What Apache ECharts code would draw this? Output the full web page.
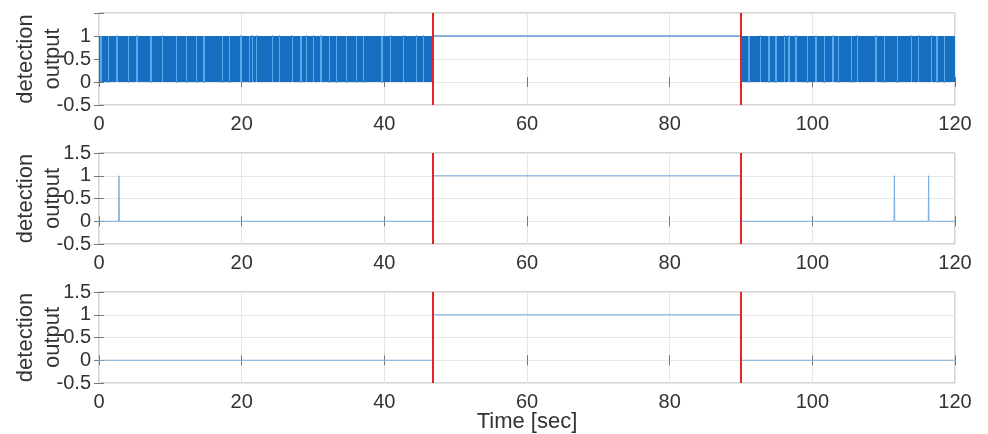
<!DOCTYPE html>
<html><head><meta charset="utf-8">
<script src="https://cdn.jsdelivr.net/npm/echarts@6/dist/echarts.min.js"></script>
<style>html,body{margin:0;padding:0;background:#fff}#c{width:988px;height:434px}</style>
</head><body><div id="c"></div>
<script>
// ---- data ----
const xTicks = [0, 20, 40, 60, 80, 100, 120];
const yTicks = [-0.5, 0, 0.5, 1, 1.5];
const eventTimes = [46.8, 90.0];          // red event markers [sec]
const sampleStep = 0.2;                   // top-panel sampling [sec]
const topSegAStart = 0;                   // rapid 0/1 detection output, 0 .. 46.8 s
const topSegA =
  "1001010010" + "1011010101" + "0010101101" + "0101010010" + "1010110101" +
  "0101001010" + "1001010100" + "1010010101" + "0101010010" + "1001010101" +
  "1010100110" + "1101010101" + "0110101101" + "0101011010" + "1001011010" +
  "1101011010" + "1001010010" + "1010010101" + "0010100101" + "0101010100" +
  "1010110101" + "0101101010" + "1011010110" + "10101";
const topSegBStart = 90;                  // rapid 0/1 detection output, 90 .. 120 s
const topSegB =
  "1010100101" + "0101101010" + "0101001010" + "1101101011" + "0101010010" +
  "1011010100" + "1010110100" + "1010101001" + "0110101010" + "1010110101" +
  "0010101010" + "0101010101" + "1010110101" + "0101101001" + "0100101010" + "1";
const midTimes  = [0, 2.75, 2.8, 2.85, 46.8, 46.8, 90.0, 90.0, 111.45, 111.5, 111.55, 116.25, 116.3, 116.35, 120];
const midValues = [0, 0,    1,   0,    0,    1,    1,    0,    0,      1,     0,      0,      1,     0,      0];
const botTimes  = [0, 46.8, 46.8, 90.0, 90.0, 120];
const botValues = [0, 0,    1,    1,    0,    0];

// ---- build series data ----
const topPts = [];
for (let i = 0; i < topSegA.length; i++) topPts.push([+(topSegAStart + i * sampleStep).toFixed(2), +topSegA[i]]);
for (let j = 0; j < topSegB.length; j++) topPts.push([+(topSegBStart + j * sampleStep).toFixed(2), +topSegB[j]]);
// each item: [t, v, tPrev, vPrev]
const topData = topPts.slice(1).map((p, i) => [p[0], p[1], topPts[i][0], topPts[i][1]]);
const midData = midTimes.map((t, i) => [t, midValues[i]]);
const botData = botTimes.map((t, i) => [t, botValues[i]]);

const FONT = 'Liberation Sans, Arial, sans-serif';
const BAND = '#176fc1';
const BAND_LIGHT = '#5aa9ea';
const grids = [
  {left: 99, top: 13,  width: 856, height: 92},
  {left: 99, top: 153, width: 856, height: 91},
  {left: 99, top: 292, width: 856, height: 91}
].map(g => Object.assign(g, {show: true, borderColor: '#a8a8a8', borderWidth: 1,
  backgroundColor: '#fff', containLabel: false, outerBoundsMode: 'none'}));

const xAxes = [], yAxes = [];
for (let k = 0; k < 3; k++) {
  xAxes.push({
    type: 'value', gridIndex: k, min: xTicks[0], max: xTicks[xTicks.length - 1], interval: 20,
    axisLine: {show: false},
    axisTick: {show: true, inside: true, length: 5, lineStyle: {color: '#777'}},
    axisLabel: {color: '#333', fontFamily: FONT, fontSize: 20, margin: 9},
    splitLine: {show: true, lineStyle: {color: '#e6e6e6', width: 1}},
    name: k === 2 ? 'Time [sec]' : '', nameLocation: 'middle', nameGap: 39, nameMoveOverlap: false,
    nameTextStyle: {color: '#333', fontFamily: FONT, fontSize: 22, verticalAlign: 'middle'}
  });
  yAxes.push({
    type: 'value', gridIndex: k, min: yTicks[0], max: yTicks[yTicks.length - 1], interval: 0.5,
    axisLine: {show: false},
    axisTick: {show: true, inside: true, length: 5, lineStyle: {color: '#777'}},
    axisLabel: {color: '#333', fontFamily: FONT, fontSize: 20, margin: 8,
      formatter: v => (k === 0 && v === 1.5) ? '' : String(v)},
    splitLine: {show: true, lineStyle: {color: '#e6e6e6', width: 1}},
    name: 'detection\noutput', nameLocation: 'middle', nameGap: 60, nameRotate: 90, nameMoveOverlap: false,
    nameTextStyle: {color: '#333', fontFamily: FONT, fontSize: 22, lineHeight: 27,
      align: 'center', verticalAlign: 'middle'}
  });
}
// mirror ticks on top and right (box style)
for (let k = 0; k < 3; k++) {
  xAxes.push({type: 'value', gridIndex: k, position: 'top', min: 0, max: 120, interval: 20,
    axisLine: {show: false}, axisLabel: {show: false}, splitLine: {show: false},
    axisTick: {show: true, inside: true, length: 5, lineStyle: {color: '#777'}}});
  yAxes.push({type: 'value', gridIndex: k, position: 'right', min: -0.5, max: 1.5, interval: 0.5,
    axisLine: {show: false}, axisLabel: {show: false}, splitLine: {show: false},
    axisTick: {show: true, inside: true, length: 5, lineStyle: {color: '#777'}}});
}

const redMarks = {
  symbol: 'none', silent: true, label: {show: false},
  lineStyle: {color: '#e3242b', width: 2, type: 'solid'},
  data: eventTimes.map(t => ({xAxis: t}))
};

const option = {
  animation: false,
  backgroundColor: '#fff',
  grid: grids,
  xAxis: xAxes,
  yAxis: yAxes,
  series: [
    {type: 'custom', xAxisIndex: 0, yAxisIndex: 0, data: topData, z: 3,
     encode: {x: 0, y: 1},
     renderItem: (params, api) => {
       const t = api.value(0), v = api.value(1), tp = api.value(2), vp = api.value(3);
       const a = api.coord([tp, 1]), b = api.coord([t, 0]);
       const x0 = Math.round(a[0]), x1 = Math.round(b[0]);
       const rectShape = {x: x0, y: a[1], width: Math.max(1, x1 - x0), height: b[1] - a[1]};
       if (v !== vp) {
         // a 0/1 transition: dense switching fills the span between the two levels
         return {type: 'rect', shape: rectShape, style: {fill: BAND}};
       }
       const p0 = api.coord([tp, v]), p1 = api.coord([t, v]);
       const level = {type: 'line', shape: {x1: p0[0], y1: p0[1], x2: p1[0], y2: p1[1]},
         style: {stroke: BAND, lineWidth: 1}};
       if (t - tp < 1) {
         // a short hold between switching: thinner coverage, seen as a light stripe
         return {type: 'group', children: [
           {type: 'rect', shape: rectShape, style: {fill: BAND_LIGHT}}, level]};
       }
       return level;
     }},
    {type: 'line', xAxisIndex: 0, yAxisIndex: 0, data: [], showSymbol: false, markLine: redMarks, z: 4},
    {type: 'line', xAxisIndex: 1, yAxisIndex: 1, data: midData, showSymbol: false,
     lineStyle: {color: '#7aaedd', width: 1}, z: 3, markLine: redMarks},
    {type: 'line', xAxisIndex: 2, yAxisIndex: 2, data: botData, showSymbol: false,
     lineStyle: {color: '#7aaedd', width: 1}, z: 3, markLine: redMarks}
  ]
};
echarts.init(document.getElementById('c'), null, {renderer: 'canvas'}).setOption(option);
</script>
</body></html>
